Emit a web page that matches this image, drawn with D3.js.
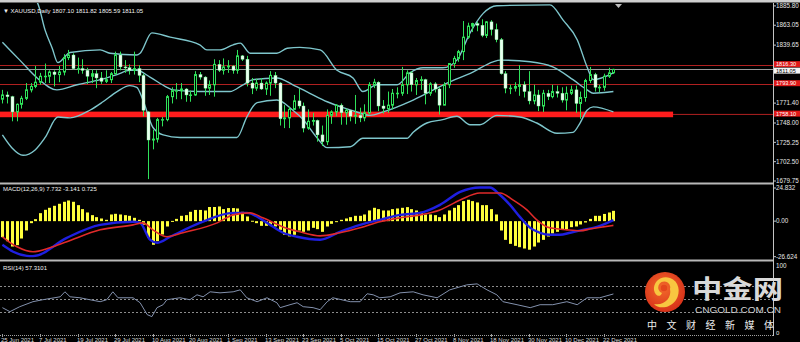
<!DOCTYPE html>
<html>
<head>
<meta charset="utf-8">
<script src="https://cdn.jsdelivr.net/npm/d3@7"></script>
<style>
html, body { margin:0; padding:0; background:#000; }
svg { display:block; font-family:"Liberation Sans", Arial, sans-serif; }
</style>
</head>
<body>
<div id="chart"></div>
<script>
// daily bars, 25 Jun 2021 .. 24 Dec 2021 (bar index 0..130)
const opens = [1776,1781,1779,1761,1770,1777,1787,1791,1796,1803,1803,1808,1805,1808,1825,1828,1812,1812,1810,1803,1806,1801,1797,1799,1806,1828,1814,1813,1810,1812,1804,1761,1728,1729,1752,1752,1779,1786,1786,1788,1781,1781,1805,1802,1789,1793,1817,1810,1814,1815,1810,1827,1823,1795,1789,1795,1788,1795,1804,1795,1753,1754,1764,1774,1768,1742,1750,1751,1734,1726,1757,1761,1769,1760,1763,1756,1757,1754,1760,1793,1796,1768,1765,1769,1783,1783,1793,1807,1793,1798,1799,1783,1794,1788,1769,1793,1818,1824,1832,1849,1862,1865,1863,1851,1867,1858,1846,1806,1789,1789,1791,1793,1785,1774,1781,1768,1783,1779,1785,1783,1775,1783,1787,1771,1778,1798,1805,1790,1790,1803,1807.10];
const highs = [1787,1785,1780,1771,1780,1795,1795,1815,1807,1818,1810,1810,1815,1829,1834,1830,1825,1823,1813,1811,1810,1808,1810,1808,1832,1832,1822,1817,1832,1816,1806,1762,1740,1754,1755,1781,1790,1795,1795,1789,1786,1809,1808,1803,1798,1823,1822,1824,1822,1816,1834,1828,1827,1801,1800,1801,1797,1809,1808,1796,1769,1767,1781,1788,1772,1764,1760,1752,1745,1764,1763,1770,1771,1765,1763,1781,1766,1770,1796,1800,1797,1775,1785,1788,1790,1814,1810,1809,1801,1803,1800,1796,1796,1790,1796,1818,1827,1834,1868,1866,1866,1867,1870,1868,1869,1865,1848,1809,1793,1796,1816,1797,1809,1793,1787,1787,1787,1793,1792,1790,1791,1792,1792,1785,1800,1814,1807,1793,1806,1813,1811.82];
const lows = [1771,1771,1750,1750,1765,1775,1784,1789,1793,1795,1795,1791,1796,1804,1822,1811,1806,1806,1794,1795,1789,1794,1795,1795,1805,1810,1807,1805,1805,1796,1756,1682,1717,1725,1744,1750,1771,1776,1776,1773,1773,1780,1799,1780,1781,1779,1808,1805,1807,1806,1806,1821,1791,1782,1786,1787,1781,1780,1789,1745,1742,1742,1764,1765,1737,1740,1745,1726,1721,1722,1747,1756,1746,1746,1750,1747,1749,1750,1758,1789,1762,1759,1760,1764,1777,1780,1782,1785,1781,1787,1770,1780,1784,1758,1769,1789,1813,1820,1822,1847,1855,1856,1849,1848,1851,1843,1805,1783,1782,1785,1780,1778,1770,1770,1762,1761,1775,1777,1778,1772,1763,1781,1760,1753,1773,1795,1785,1784,1786,1801,1805.59];
const closes = [1781,1779,1761,1770,1777,1787,1791,1796,1803,1803,1808,1805,1808,1825,1828,1812,1812,1810,1803,1806,1801,1797,1799,1806,1828,1814,1813,1810,1812,1804,1763,1728,1729,1752,1752,1779,1786,1786,1788,1781,1781,1805,1802,1789,1793,1817,1810,1814,1815,1810,1827,1823,1795,1789,1795,1788,1795,1804,1795,1753,1754,1764,1774,1768,1742,1750,1751,1734,1726,1757,1761,1769,1760,1763,1756,1757,1754,1760,1793,1796,1768,1765,1769,1783,1783,1793,1807,1793,1798,1799,1783,1794,1788,1769,1793,1818,1824,1832,1849,1862,1865,1863,1851,1867,1858,1846,1806,1789,1789,1791,1793,1785,1774,1781,1768,1783,1779,1785,1783,1775,1783,1787,1771,1778,1798,1805,1790,1790,1803,1807,1811.05];

// Bollinger bands: [bar index, price]
const bbUpper = [[0,1915],[4,1904],[7.4,1890],[9.1,1857],[10.6,1836],[11.8,1819],[14.4,1831],[20.8,1834],[22.9,1830],[28.6,1828],[29.3,1830],[31.8,1854],[35.7,1849],[42,1840],[43.5,1834],[46.3,1834],[49.1,1840],[50.6,1842],[52.7,1830],[58.4,1830],[60.6,1836],[63.3,1837],[67.6,1834],[71.2,1810],[74.6,1801],[76.7,1785],[79.7,1793],[84,1793],[86.7,1807],[89.5,1813],[93.7,1813],[96.7,1822],[99.5,1854],[102.3,1877],[105.2,1886],[116.5,1887],[119.3,1869],[122.3,1846],[124.4,1814],[125.7,1799],[130,1807]];
const bbMiddle = [[0,1843],[3.7,1822],[7.4,1801],[11.6,1787],[15.9,1793],[20.8,1799],[24.4,1805],[27.1,1810],[28.6,1810],[31.4,1802],[35,1790],[36.3,1787],[42,1785],[48.4,1785],[51.2,1793],[53.3,1799],[58.4,1801],[61.8,1793],[65.4,1783],[69.1,1773],[72.5,1766],[75.4,1761],[78.2,1757],[81,1761],[87.4,1775],[94.6,1795],[100.1,1808],[104.4,1820],[105.9,1822],[112.3,1820],[117.1,1814],[121.4,1799],[124.4,1787],[125.7,1783],[130,1785]];
const bbLower = [[0,1734],[2,1719],[4.4,1710],[6.9,1716],[9.1,1731],[11.8,1755],[14.4,1754],[18.6,1763],[21.4,1773],[24.4,1785],[27.1,1792],[28.6,1790],[29.9,1775],[32,1743],[34.2,1734],[37.8,1731],[49.9,1731],[52,1755],[54.2,1772],[58.4,1775],[61.8,1763],[64,1752],[66.9,1731],[69.1,1719],[74,1720],[76.7,1730],[86.1,1730],[87.4,1737],[90.3,1748],[93.7,1752],[96.7,1756],[99.5,1746],[101.6,1746],[105.2,1757],[110.1,1755],[113.7,1748],[118,1736],[121.4,1737],[122.9,1748],[124.4,1763],[125.7,1767],[130,1761]];

// horizontal levels drawn on the chart
const thinLevels = [1816.3, 1793.9];
const zoneLevel = 1758.1;
const zoneEndBar = 142.7;
const lastPrice = 1811.05;

// MACD(12,26,9)
const macdHist = [-12,-15,-19,-18,-13,-7,-1.5,1.5,6,8.5,10,11.5,13,14.5,15.5,14.5,12,9,6.5,4.5,3,2,1,5,5.5,5,4.5,4,2.5,1,-2.7,-12.5,-17.7,-15,-10,-4,0.2,1.7,4,4.5,7,8.4,8.4,8,10.6,10.6,11,9,9.8,9.8,9.5,7,3.5,0.3,-1.5,-3.5,-3.5,-2.7,-4,-6.5,-10.2,-11.4,-10.2,-7,-8,-7,-5,-6,-8,-4,-2,-0.5,1,2,3,4,4,5,8,10,9,8,8,9,9.5,10,10.5,9,8,7,5,5,4.5,3,5,8,10,12,15,16,15,14,12,12,9,5,-7,-14,-17,-18.5,-19.5,-20.5,-21.4,-19,-16,-14,-11.5,-9.2,-8,-6.6,-6,-4.5,-4,-2.5,-1,1.7,4,4,5.4,6.5,7.732];
const macdBlue = [[0,-17.7],[2.3,-22.9],[5.2,-26],[6.5,-26.2],[13.7,-12.5],[20.8,-2.8],[27.8,-0.5],[29.3,-1.3],[31.4,-13.9],[32.9,-16.2],[35.7,-11.7],[42,-1.3],[49.1,6.2],[52,6.2],[56.3,-1.3],[59.7,-8.7],[62.7,-11.7],[67.6,-13.9],[71.8,-8],[76.1,-2.8],[80.3,1],[84.6,4.7],[88.9,6.2],[93.1,12.2],[97.4,21.9],[101.6,25.2],[103.7,25.2],[105.9,19.6],[108,12.2],[110.1,3.2],[112.3,-5],[114.4,-8.7],[116.5,-10.2],[118.6,-10.2],[120.8,-8.7],[123.5,-6.5],[126.5,-4.3],[130,0.725]];
const macdRed = [[0,-11.7],[3.1,-19.2],[6.5,-22.9],[10.1,-19.9],[13.7,-15.4],[20.8,-6.5],[27.8,-2.8],[29.9,-1.3],[32,-6.5],[35,-11.7],[38.4,-8.7],[45.7,-1.3],[49.1,4.7],[52.7,6.2],[55.4,2.5],[59.7,-4.3],[63.3,-8],[67.6,-11],[71.8,-8.7],[76.1,-5],[80.3,-0.5],[84.6,2.5],[88.9,4.7],[93.1,8.4],[97.4,15.9],[101.6,21.1],[105.9,21.1],[108.6,15.9],[111.6,8.4],[113.7,1],[115.9,-4.3],[118,-5.7],[120.1,-6.5],[122.9,-7.2],[125.3,-5.7],[127.8,-4.3],[130,-3.141]];

// RSI(14)
const rsiPoints = [[0,36.4],[1.6,30.3],[3.7,37.9],[6.5,45.5],[8.6,48.5],[12.3,53],[13.3,60.6],[14.4,53],[16.5,51.5],[18.6,48.5],[20.8,45.5],[22.2,48.5],[23.5,60.6],[24.6,51.5],[27.8,51.5],[29.3,43.9],[30.8,25.8],[31.8,22.7],[32.9,36.4],[34.2,40.9],[35,48.5],[37.8,51.5],[39.9,48.5],[41.4,56],[42.7,53],[44.2,60.6],[46.3,59],[49.1,60.6],[50.6,63.6],[52,51.5],[54.2,45.5],[56.3,51.5],[58.4,43.9],[59.1,36.4],[61.2,40.9],[62.7,43.9],[64,37.9],[66.1,36.4],[67.6,33.3],[69.1,45.5],[70.3,51.5],[74,45.5],[76.1,45.5],[77.6,57.6],[78.9,56],[80.3,51.5],[82.5,53],[84.6,59],[87.4,60.6],[89.5,56],[92.5,51.5],[95.2,63.6],[98.8,71.2],[101,72.7],[103.1,63.6],[105.2,56],[106.5,45.5],[109.5,40.9],[112.3,36.4],[114.4,40.9],[117.1,40.9],[120.1,45.5],[122.3,40.9],[124.4,51.5],[127.1,51.5],[130,57.31]];
const rsiLevels = [70, 50, 30];

// axes
const priceTicks = [1885.80, 1863.05, 1839.65, 1771.40, 1748.00, 1725.25, 1702.50, 1679.75];
const macdTicks = [24.832, 0, -26.624];
const macdTickText = ['24.832', '0.00', '-26.624'];
const rsiTicks = [100, 0];
const dateBars = [0,8,16,24,32,40,48,56,64,72,80,88,96,104,112,120,128];
const dateLabels = ['25 Jun 2021','7 Jul 2021','19 Jul 2021','29 Jul 2021','10 Aug 2021','20 Aug 2021','1 Sep 2021','13 Sep 2021','23 Sep 2021','5 Oct 2021','15 Oct 2021','27 Oct 2021','8 Nov 2021','18 Nov 2021','30 Nov 2021','10 Dec 2021','22 Dec 2021'];

const W = 800, H = 342, axisX = 773;
const svg = d3.select('#chart').append('svg').attr('width', W).attr('height', H);
svg.append('rect').attr('width', W).attr('height', H).attr('fill', '#000');

const x = d3.scaleLinear().domain([0, 130]).range([2.4, 613.4]);
const yP = d3.scaleLinear().domain([1679.75, 1885.80]).range([181, 5.9]);
const yM = d3.scaleLinear().domain([-26.624, 24.832]).range([256.7, 188]);
const yR = d3.scaleLinear().domain([0, 100]).range([331.5, 266]);

const defs = svg.append('defs');
const clip = (id, y0, h) => defs.append('clipPath').attr('id', id)
  .append('rect').attr('x', 0).attr('y', y0).attr('width', axisX).attr('height', h);
clip('cMain', 3, 179);
clip('cMacd', 185, 74);
clip('cRsi', 262, 72);

const gMain = svg.append('g').attr('clip-path', 'url(#cMain)');
const gMacd = svg.append('g').attr('clip-path', 'url(#cMacd)');
const gRsi = svg.append('g').attr('clip-path', 'url(#cRsi)');

// levels
gMain.selectAll('.thin').data(thinLevels).enter().append('line')
  .attr('x1', 0).attr('x2', axisX)
  .attr('y1', d => Math.round(yP(d)) + 0.5).attr('y2', d => Math.round(yP(d)) + 0.5)
  .attr('stroke', '#b02020').attr('stroke-width', 1);
gMain.append('line').attr('x1', 0).attr('x2', axisX)
  .attr('y1', Math.round(yP(lastPrice)) + 0.5).attr('y2', Math.round(yP(lastPrice)) + 0.5)
  .attr('stroke', '#9a9a9a').attr('stroke-width', 1);
gMain.append('line').attr('x1', 0).attr('x2', axisX)
  .attr('y1', yP(zoneLevel)).attr('y2', yP(zoneLevel))
  .attr('stroke', '#b02020').attr('stroke-width', 1);
gMain.append('rect').attr('x', 0).attr('width', x(zoneEndBar))
  .attr('y', yP(zoneLevel) - 2.8).attr('height', 5.6).attr('fill', '#ff1c1c');

// bollinger bands
const bandLine = d3.line().x(d => x(d[0])).y(d => yP(d[1])).curve(d3.curveMonotoneX);
[bbUpper, bbMiddle, bbLower].forEach(band => {
  gMain.append('path').attr('d', bandLine(band))
    .attr('fill', 'none').attr('stroke', '#7ec6cc').attr('stroke-width', 1.4);
});

// candles
const bars = opens.map((o, i) => ({ i, o, h: highs[i], l: lows[i], c: closes[i] }));
const cx = i => Math.round(x(i));
gMain.selectAll('.wick').data(bars).enter().append('line')
  .attr('x1', d => cx(d.i) + 0.5).attr('x2', d => cx(d.i) + 0.5)
  .attr('y1', d => yP(d.h)).attr('y2', d => yP(d.l))
  .attr('stroke', '#2fe25a').attr('stroke-width', 1);
gMain.selectAll('.bull').data(bars.filter(d => d.c >= d.o)).enter().append('rect')
  .attr('x', d => cx(d.i) - 0.5).attr('width', 2)
  .attr('y', d => yP(d.c)).attr('height', d => Math.max(0.5, yP(d.o) - yP(d.c)))
  .attr('fill', '#000').attr('stroke', '#2fe25a').attr('stroke-width', 1);
gMain.selectAll('.bear').data(bars.filter(d => d.c < d.o)).enter().append('rect')
  .attr('x', d => cx(d.i) - 1).attr('width', 3)
  .attr('y', d => yP(d.o)).attr('height', d => Math.max(1, yP(d.c) - yP(d.o)))
  .attr('fill', '#eafff0').attr('stroke', '#7cf09a').attr('stroke-width', 0.4);

// MACD
gMacd.selectAll('.hist').data(macdHist).enter().append('rect')
  .attr('x', (d, i) => cx(i) - 1).attr('width', 3)
  .attr('y', d => yM(Math.max(0, d)))
  .attr('height', d => Math.max(1, Math.abs(yM(d) - yM(0))))
  .attr('fill', '#ffff3c');
const macdLine = d3.line().x(d => x(d[0])).y(d => yM(d[1])).curve(d3.curveMonotoneX);
gMacd.append('path').attr('d', macdLine(macdBlue))
  .attr('fill', 'none').attr('stroke', '#1f1fe0').attr('stroke-width', 2.4);
gMacd.append('path').attr('d', macdLine(macdRed))
  .attr('fill', 'none').attr('stroke', '#e02a2a').attr('stroke-width', 1.6);

// RSI
gRsi.selectAll('.lvl').data(rsiLevels).enter().append('line')
  .attr('x1', 0).attr('x2', axisX)
  .attr('y1', d => Math.round(yR(d)) + 0.5).attr('y2', d => Math.round(yR(d)) + 0.5)
  .attr('stroke', '#8c8c8c').attr('stroke-dasharray', '2,2');
gRsi.append('path')
  .attr('d', d3.line().x(d => x(d[0])).y(d => yR(d[1]))(rsiPoints))
  .attr('fill', 'none').attr('stroke', '#8391ad').attr('stroke-width', 1);

// frame pieces
svg.append('rect').attr('x', 0).attr('y', 0).attr('width', W).attr('height', 2.5).attr('fill', '#cfcfcf');
svg.append('rect').attr('x', 0).attr('y', 182.5).attr('width', axisX).attr('height', 2).attr('fill', '#b8b8b8');
svg.append('rect').attr('x', 0).attr('y', 259.5).attr('width', axisX).attr('height', 2).attr('fill', '#b8b8b8');
svg.append('line').attr('x1', 0).attr('x2', axisX).attr('y1', 335.5).attr('y2', 335.5)
  .attr('stroke', '#a0a0a0').attr('stroke-dasharray', '1,1');
svg.append('line').attr('x1', axisX + 0.5).attr('x2', axisX + 0.5).attr('y1', 3).attr('y2', 336)
  .attr('stroke', '#c4c4c4');
svg.append('path').attr('d', 'M615,4 L622,4 L618.5,8 Z').attr('fill', '#bdbdbd');

const txt = (g, xx, yy, s, size, fill, anchor) => g.append('text')
  .attr('x', xx).attr('y', yy).attr('font-size', size).attr('fill', fill)
  .attr('text-anchor', anchor || 'start').text(s);

// right axis labels
const axisG = svg.append('g');
priceTicks.forEach(v => {
  axisG.append('line').attr('x1', axisX).attr('x2', axisX + 3).attr('y1', yP(v)).attr('y2', yP(v)).attr('stroke', '#c4c4c4');
  txt(axisG, axisX + 3, yP(v) + 2.2, v.toFixed(2), 6.3, '#e6e6e6');
});
macdTicks.forEach((v, k) => {
  axisG.append('line').attr('x1', axisX).attr('x2', axisX + 3).attr('y1', yM(v)).attr('y2', yM(v)).attr('stroke', '#c4c4c4');
  txt(axisG, axisX + 3, yM(v) + 2.2, macdTickText[k], 6.3, '#e6e6e6');
});
txt(axisG, axisX + 3, yR(rsiTicks[0]) + 2.2, String(rsiTicks[0]), 6.3, '#e6e6e6');
txt(axisG, axisX + 3, yR(rsiTicks[1]) + 3.6, String(rsiTicks[1]), 6, '#e6e6e6');

// price tags (red tags sit a touch above their line, the bid tag a touch below)
thinLevels.concat([zoneLevel]).forEach(v => {
  const yy = yP(v) - 0.8;
  axisG.append('rect').attr('x', axisX + 1).attr('y', yy - 3).attr('width', 27).attr('height', 6).attr('fill', '#e01818');
  txt(axisG, axisX + 3, yy + 2, v.toFixed(2), 5.6, '#ffffff');
});
const yLast = yP(lastPrice) + 1.2;
axisG.append('rect').attr('x', axisX + 1).attr('y', yLast - 3).attr('width', 27).attr('height', 6).attr('fill', '#f4f4f4');
txt(axisG, axisX + 3, yLast + 2, lastPrice.toFixed(2), 5.6, '#000');

// date labels
dateBars.forEach((b, k) => {
  svg.append('line').attr('x1', cx(b) + 0.5).attr('x2', cx(b) + 0.5).attr('y1', 334).attr('y2', 337).attr('stroke', '#a0a0a0');
  txt(svg, cx(b) - 1, 341.5, dateLabels[k], 6, '#dcdcdc');
});

// titles
txt(svg, 3, 12.8, '\u25BC XAUUSD,Daily  1807.10 1811.82 1805.59 1811.05', 6, '#f0f0f0');
txt(svg, 3, 191.3, 'MACD(12,26,9) 7.732 -3.141 0.725', 6, '#f0f0f0');
txt(svg, 3, 270.3, 'RSI(14) 57.3101', 6, '#f0f0f0');

// watermark
const wm = svg.append('g');
const grad = defs.append('radialGradient').attr('id', 'logoG').attr('cx', '45%').attr('cy', '40%').attr('r', '60%');
grad.append('stop').attr('offset', '0%').attr('stop-color', '#f26a2a');
grad.append('stop').attr('offset', '100%').attr('stop-color', '#d8321a');
wm.append('circle').attr('cx', 665).attr('cy', 292).attr('r', 20).attr('fill', 'url(#logoG)');
wm.append('path')
  .attr('d', 'M662,293 A6,6 0 1,1 670,289 C672,298 664,306 654,304 C658,309 670,309 676,300 C681,292 679,281 670,278 C661,275 653,282 654,290 C655,296 660,298 662,293 Z')
  .attr('fill', '#f8c640');
wm.append('circle').attr('cx', 664).attr('cy', 288).attr('r', 3.2).attr('fill', '#e3461d');
wm.append('text').attr('x', 692).attr('y', 297.5).attr('font-size', 25.5).attr('font-weight', 700)
  .attr('font-family', '"Noto Sans CJK SC", sans-serif').attr('fill', '#d9d9d9')
  .attr('textLength', 91).attr('lengthAdjust', 'spacingAndGlyphs').text('中金网');
wm.append('text').attr('x', 695).attr('y', 313.3).attr('font-size', 9)
  .attr('fill', '#d2d2d2').attr('textLength', 86).attr('lengthAdjust', 'spacingAndGlyphs').text('CNGOLD.COM.CN');
wm.append('text').attr('x', 647).attr('y', 329).attr('font-size', 10)
  .attr('font-family', '"Noto Sans CJK SC", sans-serif').attr('fill', '#ececec')
  .attr('textLength', 127).attr('lengthAdjust', 'spacing').text('中文财经新媒体');
</script>
</body>
</html>
